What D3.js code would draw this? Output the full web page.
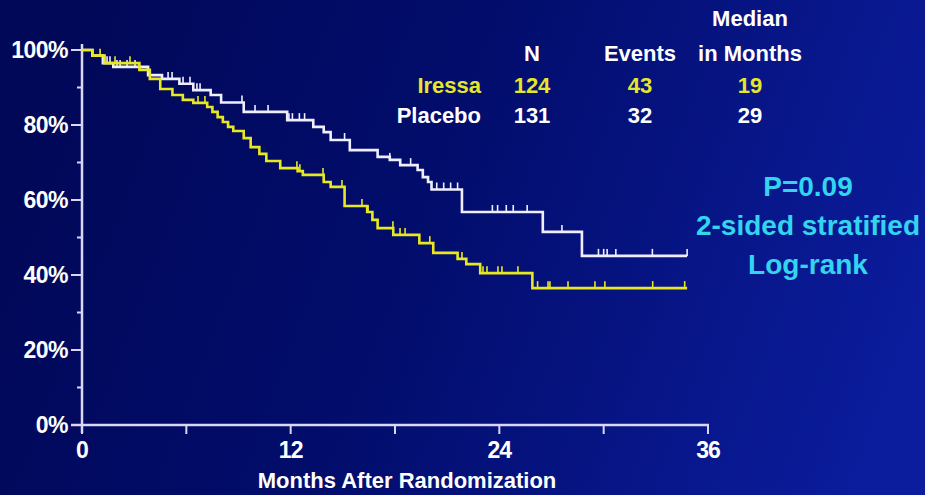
<!DOCTYPE html>
<html><head><meta charset="utf-8">
<script src="https://cdn.jsdelivr.net/npm/d3@7"></script>
<style>
html,body{margin:0;padding:0;background:#020a5e;}
svg{display:block;}
text{font-family:"Liberation Sans",Arial,sans-serif;font-weight:bold;}
</style></head>
<body><div id="chart"></div>
<script>
// ---------- data ----------
const xTickValues = [0, 12, 24, 36];
const xMinorTicks = [6, 18, 30];
const yTickValues = [0, 20, 40, 60, 80, 100];
const yMinorTicks = [10, 30, 50, 70, 90];

// Placebo (white) step points: month, survival %
const placeboTimes = [0, 0.6, 1.2, 1.8, 3.8, 4.6, 5.6, 6.4, 7.4, 8.0, 9.3, 11.8, 13.3, 13.9, 14.3, 15.4, 17.0, 17.7, 18.3, 19.3, 19.6, 19.9, 20.1, 21.85, 26.5, 28.75];
const placeboSurv  = [100, 98.5, 96.5, 95.5, 93.3, 92.3, 91.0, 89.3, 88.0, 86.0, 83.5, 81.3, 79.5, 78.1, 76.0, 73.3, 71.5, 70.7, 69.3, 68.0, 66.1, 64.8, 62.8, 56.8, 51.5, 45.1];
const placeboEnd = 34.8;
const placeboCensor = [1.44, 1.61, 2.01, 2.19, 2.59, 3.05, 4.95, 5.18, 5.81, 6.21, 6.61, 6.79, 9.2, 9.95, 10.7, 11.9, 12.1, 12.5, 12.8, 15.1, 17.7, 18.9, 20.4, 20.8, 21.2, 21.6, 23.6, 23.9, 24.4, 24.8, 25.6, 27.6, 29.7, 30.0, 30.2, 30.7, 32.8, 34.8];

// Iressa (yellow)
const iressaTimes = [0, 0.6, 1.3, 3.3, 3.9, 4.5, 5.2, 5.8, 6.4, 7.2, 7.5, 7.8, 8.1, 8.4, 8.7, 9.3, 9.7, 10.2, 10.6, 11.4, 12.4, 12.7, 13.9, 14.3, 15.1, 16.4, 16.7, 17.0, 17.9, 19.4, 20.2, 21.6, 22.1, 22.9, 25.9];
const iressaSurv  = [100, 98.5, 96.5, 94.7, 92.3, 89.6, 88.0, 86.7, 85.9, 84.8, 83.5, 82.1, 80.8, 79.5, 78.4, 76.5, 74.1, 72.3, 70.4, 68.5, 67.7, 66.7, 64.8, 63.5, 58.4, 56.8, 54.7, 52.5, 50.7, 48.5, 45.9, 44.3, 42.9, 40.5, 36.5];
const iressaEnd = 34.8;
const iressaCensor = [1.04, 1.9, 2.76, 6.67, 7.07, 12.36, 12.53, 13.86, 14.95, 16.1, 16.45, 17.88, 18.29, 18.58, 20.0, 21.85, 23.06, 23.29, 23.92, 24.15, 25.07, 26.2, 26.8, 26.91, 27.95, 29.5, 30.07, 32.82, 34.66];

// table
const tableHeaders = ["N", "Events", "in Months"];
const tableGroups = ["Iressa", "Placebo"];
const tableN = ["124", "131"];
const tableEvents = ["43", "32"];
const tableMedian = ["19", "29"];
const pValueLines = ["P=0.09", "2-sided stratified", "Log-rank"];

// ---------- drawing ----------
const W = 925, H = 495;
const svg = d3.select("#chart").append("svg").attr("width", W).attr("height", H);

const defs = svg.append("defs");
const grad = defs.append("linearGradient").attr("id", "bg")
  .attr("x1", "0").attr("y1", "0.4").attr("x2", "1").attr("y2", "0.6");
grad.append("stop").attr("offset", "0").attr("stop-color", "#010858");
grad.append("stop").attr("offset", "0.45").attr("stop-color", "#020d6c");
grad.append("stop").attr("offset", "1").attr("stop-color", "#0b1c9c");
svg.append("rect").attr("width", W).attr("height", H).attr("fill", "url(#bg)");

const x = d3.scaleLinear().domain([0, 36]).range([82, 708]);
const y = d3.scaleLinear().domain([0, 100]).range([425, 50]);

const axisColor = "#d8d8f4";
const g = svg.append("g");

// axes lines
g.append("line").attr("x1", x(0)).attr("x2", x(0)).attr("y1", 44).attr("y2", y(0) + 8)
  .attr("stroke", axisColor).attr("stroke-width", 2.5);
g.append("line").attr("x1", 71).attr("x2", x(36) + 1).attr("y1", y(0)).attr("y2", y(0))
  .attr("stroke", axisColor).attr("stroke-width", 2.5);

// y ticks
g.selectAll(".ytick").data(yTickValues).join("line")
  .attr("x1", 71).attr("x2", x(0)).attr("y1", d => y(d)).attr("y2", d => y(d))
  .attr("stroke", axisColor).attr("stroke-width", 2);
g.selectAll(".ytickm").data(yMinorTicks).join("line").attr("class", "ytickm")
  .attr("x1", 77).attr("x2", x(0)).attr("y1", d => y(d)).attr("y2", d => y(d))
  .attr("stroke", axisColor).attr("stroke-width", 2);
g.selectAll(".ylab").data(yTickValues).join("text").attr("class", "ylab")
  .attr("x", 68).attr("y", d => y(d) + 8).attr("text-anchor", "end")
  .attr("fill", "#ffffff").attr("font-size", 23).attr("letter-spacing", -0.5)
  .text(d => d + "%");

// x ticks
g.selectAll(".xtick").data(xTickValues.concat(xMinorTicks)).join("line").attr("class", "xtick")
  .attr("x1", d => x(d)).attr("x2", d => x(d)).attr("y1", y(0)).attr("y2", y(0) + 9)
  .attr("stroke", axisColor).attr("stroke-width", 2);
g.selectAll(".xlab").data(xTickValues).join("text").attr("class", "xlab")
  .attr("x", d => x(d)).attr("y", 458).attr("text-anchor", "middle")
  .attr("fill", "#ffffff").attr("font-size", 23).attr("letter-spacing", -1)
  .text(d => d);
g.append("text").attr("x", 407).attr("y", 488).attr("text-anchor", "middle")
  .attr("fill", "#ffffff").attr("font-size", 22)
  .text("Months After Randomization");

// curves
function drawCurve(times, surv, end, censor, color) {
  const pts = times.map((t, i) => [t, surv[i]]);
  pts.push([end, surv[surv.length - 1]]);
  const line = d3.line().x(d => x(d[0])).y(d => y(d[1])).curve(d3.curveStepAfter);
  g.append("path").attr("d", line(pts)).attr("fill", "none")
    .attr("stroke", color).attr("stroke-width", 2.6);
  const survAt = t => {
    let s = surv[0];
    for (let i = 0; i < times.length; i++) if (times[i] <= t) s = surv[i];
    return s;
  };
  g.selectAll(null).data(censor).join("line")
    .attr("x1", d => x(d)).attr("x2", d => x(d))
    .attr("y1", d => y(survAt(d))).attr("y2", d => y(survAt(d)) - 7)
    .attr("stroke", color).attr("stroke-width", 1.6);
}
drawCurve(placeboTimes, placeboSurv, placeboEnd, placeboCensor, "#eeeeff");
drawCurve(iressaTimes, iressaSurv, iressaEnd, iressaCensor, "#e8e820");

// table
const colX = [532, 640, 750];
const t = svg.append("g").attr("font-size", 22);
t.append("text").attr("x", colX[2]).attr("y", 26).attr("text-anchor", "middle")
  .attr("fill", "#ffffff").text("Median");
t.selectAll(".hdr").data(tableHeaders).join("text").attr("class", "hdr")
  .attr("x", (d, i) => colX[i]).attr("y", 61).attr("text-anchor", "middle")
  .attr("fill", "#ffffff").text(d => d);
const rowY = [93, 123];
const rowColor = ["#e6e62a", "#ffffff"];
tableGroups.forEach((grp, r) => {
  t.append("text").attr("x", 481).attr("y", rowY[r]).attr("text-anchor", "end")
    .attr("fill", rowColor[r]).text(grp);
  [tableN[r], tableEvents[r], tableMedian[r]].forEach((v, c) => {
    t.append("text").attr("x", colX[c]).attr("y", rowY[r]).attr("text-anchor", "middle")
      .attr("fill", rowColor[r]).text(v);
  });
});

// p-value text
svg.append("g").selectAll("text").data(pValueLines).join("text")
  .attr("x", 808).attr("y", (d, i) => 196 + i * 39).attr("text-anchor", "middle")
  .attr("fill", "#33d4f0").attr("font-size", 28)
  .text(d => d);
</script>
</body></html>
